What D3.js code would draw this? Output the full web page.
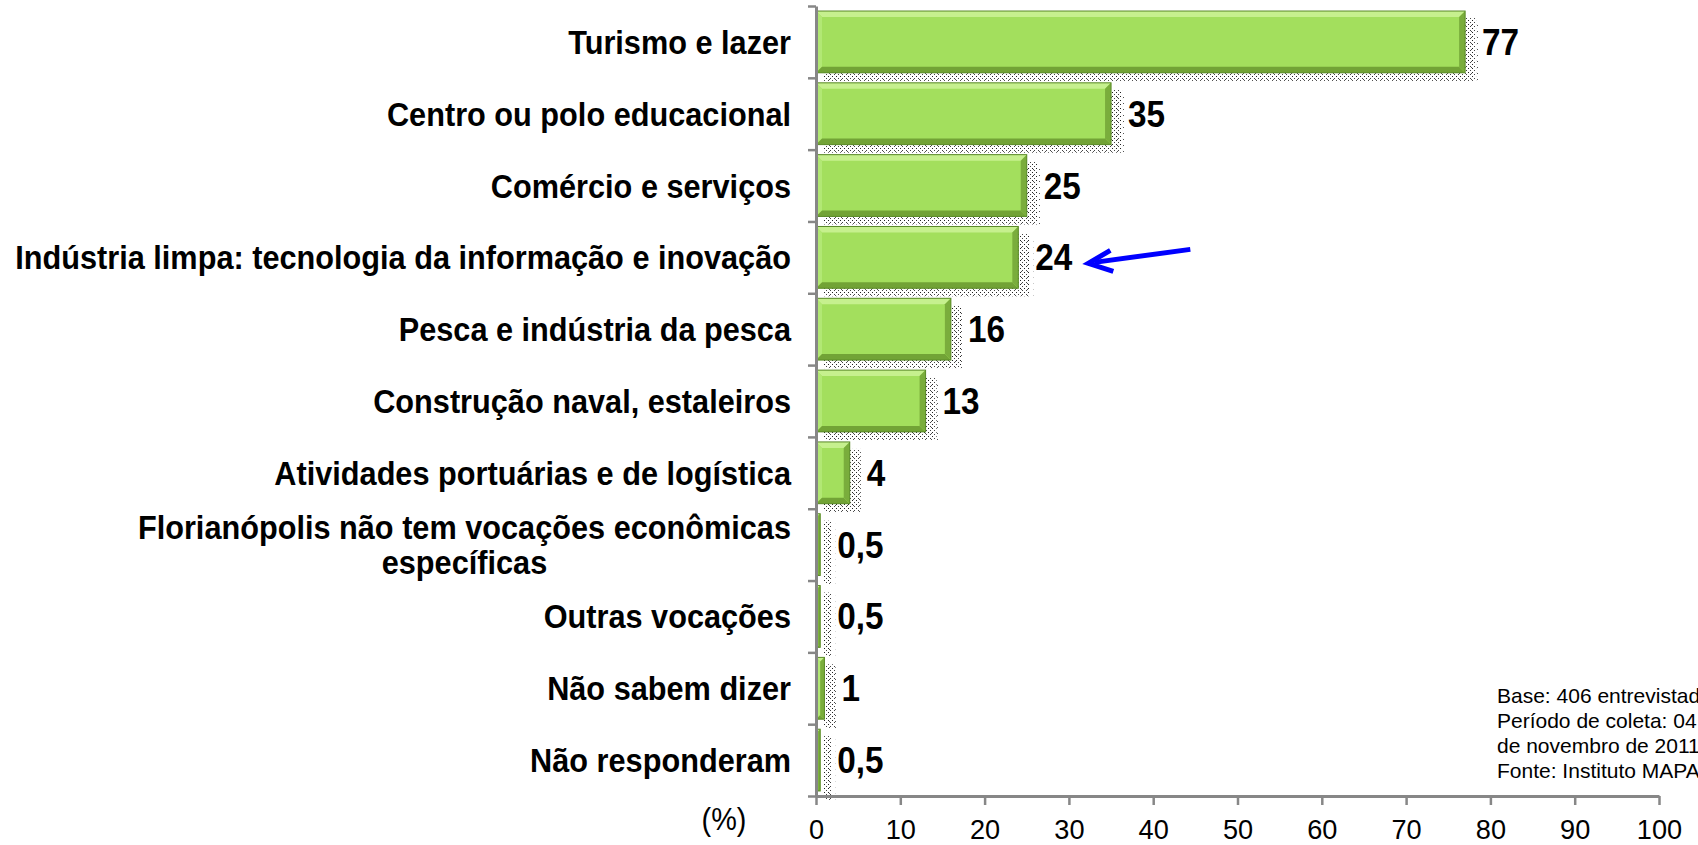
<!DOCTYPE html>
<html><head><meta charset="utf-8">
<script src="https://cdn.jsdelivr.net/npm/d3@7"></script>
<style>
html,body{margin:0;padding:0;background:#fff;overflow:hidden}
svg{display:block}
text{font-family:"Liberation Sans",Arial,Helvetica,sans-serif}
</style>
</head><body>
<svg id="c" width="1698" height="845"></svg>
<script>
const categories = [
  "Turismo e lazer",
  "Centro ou polo educacional",
  "Comércio e serviços",
  "Indústria limpa: tecnologia da informação e inovação",
  "Pesca e indústria da pesca",
  "Construção naval, estaleiros",
  "Atividades portuárias e de logística",
  "Florianópolis não tem vocações econômicas\nespecíficas",
  "Outras vocações",
  "Não sabem dizer",
  "Não responderam"
];
const values = [77, 35, 25, 24, 16, 13, 4, 0.5, 0.5, 1, 0.5];
const valueLabels = ["77", "35", "25", "24", "16", "13", "4", "0,5", "0,5", "1", "0,5"];
const xTicks = [0, 10, 20, 30, 40, 50, 60, 70, 80, 90, 100];
const unitLabel = "(%)";
const notes = [
  "Base: 406 entrevistados",
  "Período de coleta: 04 a 08",
  "de novembro de 2011",
  "Fonte: Instituto MAPA"
];
const highlightIndex = 3;

const svg = d3.select("#c");
const n = categories.length;
const x = d3.scaleLinear().domain([0, 100]).range([816, 1659]);
const yIdx = d3.scaleLinear().domain([0, n]).range([6, 796]);
const y = d3.scaleBand().domain(d3.range(n)).range([6, 796]).paddingInner(0.14).paddingOuter(0.07);
const axisColor = "#878787";

const defs = svg.append("defs");
const pat = defs.append("pattern").attr("id", "dots").attr("width", 4).attr("height", 4)
  .attr("patternUnits", "userSpaceOnUse");
pat.append("rect").attr("x", 0).attr("y", 0).attr("width", 1).attr("height", 1).attr("fill", "#222");
pat.append("rect").attr("x", 2).attr("y", 2).attr("width", 1).attr("height", 1).attr("fill", "#444");
const pat2 = defs.append("pattern").attr("id", "dots2").attr("width", 6).attr("height", 6)
  .attr("patternUnits", "userSpaceOnUse");
pat2.append("rect").attr("x", 1).attr("y", 1).attr("width", 1).attr("height", 1).attr("fill", "#555");

// outer sparse shadows
svg.append("g").selectAll("rect").data(values).join("rect")
  .attr("x", x(0) + 10)
  .attr("y", (d, i) => y(i) + 10)
  .attr("width", d => x(d) - x(0) + 5)
  .attr("height", y.bandwidth() + 2)
  .attr("fill", "url(#dots2)");
// inner dense shadows
svg.append("g").selectAll("rect").data(values).join("rect")
  .attr("x", x(0) + 7)
  .attr("y", (d, i) => y(i) + 7)
  .attr("width", d => x(d) - x(0) + 4)
  .attr("height", y.bandwidth() + 1)
  .attr("fill", "url(#dots)");

// bars with bevel
const bars = svg.append("g").selectAll("g").data(values).join("g");
bars.each(function(d, i) {
  const g = d3.select(this);
  const x0 = x(0), x1 = x(d), y0 = y(i), y1 = y(i) + y.bandwidth();
  const w = x1 - x0;
  const b = Math.min(6, w / 2);
  g.append("rect").attr("x", x0).attr("y", y0).attr("width", w).attr("height", y1 - y0)
    .attr("fill", "#a3df5d");
  const poly = (pts, fill) => g.append("polygon").attr("points", pts.map(p => p.join(",")).join(" ")).attr("fill", fill);
  poly([[x0, y0], [x1, y0], [x1 - b, y0 + b], [x0 + b, y0 + b]], "#c6f08e");
  poly([[x0, y0], [x0 + b, y0 + b], [x0 + b, y1 - b], [x0, y1]], "#b2e874");
  poly([[x0, y1], [x0 + b, y1 - b], [x1 - b, y1 - b], [x1, y1]], "#72a336");
  poly([[x1, y0], [x1, y1], [x1 - b, y1 - b], [x1 - b, y0 + b]], "#7aad3c");
  g.append("rect").attr("x", x0).attr("y", y0).attr("width", w).attr("height", y1 - y0)
    .attr("fill", "none").attr("stroke", "#5a8a28").attr("stroke-width", 1);
});

// axes
const gx = svg.append("g").attr("transform", "translate(0,796)")
  .call(d3.axisBottom(x).tickValues(xTicks).tickSize(9).tickSizeOuter(0).tickPadding(14).tickFormat(d3.format("d")));
gx.select(".domain").attr("stroke", axisColor).attr("stroke-width", 3);
gx.selectAll(".tick line").attr("stroke", axisColor).attr("stroke-width", 2.5);
gx.selectAll(".tick text").attr("fill", "#000").attr("font-size", 28)
  .attr("font-family", '"Liberation Sans",Arial,sans-serif')
  .attr("transform", "scale(0.97,1)");

const gy = svg.append("g").attr("transform", `translate(${x(0)},0)`)
  .call(d3.axisLeft(yIdx).tickValues(d3.range(n + 1)).tickSize(8).tickSizeOuter(0).tickFormat(""));
gy.select(".domain").attr("stroke", axisColor).attr("stroke-width", 3);
gy.selectAll(".tick line").attr("stroke", axisColor).attr("stroke-width", 2.5);

// category labels
const labelRight = x(0) - 25;
categories.forEach((c, i) => {
  const lines = c.split("\n");
  const cy = yIdx(i + 0.5);
  const t = svg.append("text")
    .attr("transform", `translate(${labelRight},${cy}) scale(0.93,1)`)
    .attr("font-size", 33).attr("font-weight", "bold").attr("fill", "#000");
  const lh = 35;
  const spans = lines.map((l, j) => t.append("tspan").attr("x", 0)
    .attr("y", (j - (lines.length - 1) / 2) * lh + 12).text(l));
  if (lines.length > 1) {
    const maxW = d3.max(spans, s => s.node().getComputedTextLength());
    t.attr("text-anchor", "middle");
    spans.forEach(s => s.attr("x", -maxW / 2));
  } else {
    t.attr("text-anchor", "end");
  }
});

// value labels
values.forEach((v, i) => {
  svg.append("text")
    .attr("transform", `translate(${x(v) + 17},${yIdx(i + 0.5)}) scale(0.9,1)`)
    .attr("y", 13)
    .attr("font-size", 37).attr("font-weight", "bold").attr("fill", "#000")
    .text(valueLabels[i]);
});

// unit label
svg.append("text")
  .attr("transform", `translate(724,830) scale(0.93,1)`)
  .attr("text-anchor", "middle").attr("font-size", 31).attr("fill", "#000")
  .text(unitLabel);

// notes
notes.forEach((s, j) => {
  svg.append("text")
    .attr("transform", `translate(1497,${703 + j * 25})`)
    .attr("font-size", 21).attr("fill", "#000").text(s);
});

// arrow annotation
const tipX = x(values[highlightIndex]) + 70, tipY = yIdx(highlightIndex + 0.5) + 6;
const ag = svg.append("g").attr("stroke", "#0000ff").attr("stroke-width", 5).attr("fill", "none");
ag.append("line").attr("x1", tipX + 102).attr("y1", tipY - 14).attr("x2", tipX + 6).attr("y2", tipY - 1);
ag.append("polyline").attr("points", `${tipX + 22},${tipY - 13} ${tipX},${tipY} ${tipX + 25},${tipY + 8}`)
  .attr("stroke-linejoin", "miter");
</script>
</body></html>
